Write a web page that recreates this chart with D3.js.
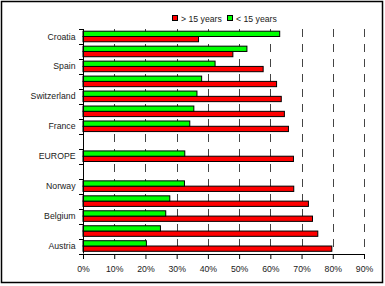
<!DOCTYPE html>
<html>
<head>
<meta charset="utf-8">
<script src="https://cdnjs.cloudflare.com/ajax/libs/d3/7.8.5/d3.min.js"></script>
<style>
  body { margin: 0; background: #fff; }
  text { font-family: "Liberation Sans", Arial, sans-serif; fill: #1a1a1a; }
</style>
</head>
<body>
<script>
// categories top to bottom; Excel skipped every second label, two rows are blank
const categories = ["Croatia", "", "Spain", "", "Switzerland", "", "France", "", "EUROPE", "", "Norway", "", "Belgium", "", "Austria"];
const over15  = [37, 48, 57.7, 62, 63.5, 64.5, 65.8, null, 67.4, null, 67.5, 72.2, 73.5, 75.2, 79.7];
const under15 = [63, 52.5, 42.3, 38, 36.5, 35.5, 34.2, null, 32.6, null, 32.5, 27.8, 26.5, 24.8, 20.3];
const seriesNames = ["> 15 years", "< 15 years"];
const seriesColors = ["#ff0000", "#00ff00"];
const xTicks = [0, 10, 20, 30, 40, 50, 60, 70, 80, 90];

const W = 385, H = 286;
const mLeft = 83, mRight = 364, mTop = 29, mBottom = 253.5;
const fs = 8.7;

const svg = d3.select("body").append("svg")
    .attr("width", W).attr("height", H);

// outer frame
svg.append("rect")
    .attr("x", 1.5).attr("y", 1.5).attr("width", 381).attr("height", 281)
    .attr("fill", "none").attr("stroke", "#000").attr("stroke-width", 1.5);

const x = d3.scaleLinear().domain([0, 90]).range([mLeft, mRight]);
const y = d3.scaleBand().domain(d3.range(categories.length)).range([mTop, mBottom]);
// inside a band: green on top, red under it
const inner = d3.scaleBand().domain([1, 0]).range([2.2, y.bandwidth() - 2.2]);

// dashed gridlines
svg.append("g")
  .selectAll("line")
  .data(xTicks.slice(1))
  .enter().append("line")
    .attr("x1", d => Math.round(x(d)) + 0.5).attr("x2", d => Math.round(x(d)) + 0.5)
    .attr("y1", mTop).attr("y2", mBottom)
    .attr("stroke", "#444").attr("stroke-width", 1)
    .attr("stroke-dasharray", "8,7");

const rows = categories.map((c, i) => ({ i, vals: [over15[i], under15[i]] }));

const bars = svg.append("g");
rows.forEach(r => {
  r.vals.forEach((v, s) => {
    if (v == null) return;
    bars.append("rect")
      .attr("x", x(0))
      .attr("y", y(r.i) + inner(s))
      .attr("width", x(v) - x(0))
      .attr("height", inner.bandwidth())
      .attr("fill", seriesColors[s])
      .attr("stroke", "#000")
      .attr("stroke-width", 1);
  });
});

// y axis line + ticks at band edges
svg.append("line")
    .attr("x1", mLeft + 0.5).attr("x2", mLeft + 0.5)
    .attr("y1", mTop).attr("y2", mBottom)
    .attr("stroke", "#000");
svg.append("g")
  .selectAll("line")
  .data(d3.range(categories.length + 1))
  .enter().append("line")
    .attr("x1", mLeft - 4).attr("x2", mLeft + 0.5)
    .attr("y1", d => Math.round(mTop + d * y.step()) + 0.5)
    .attr("y2", d => Math.round(mTop + d * y.step()) + 0.5)
    .attr("stroke", "#000");

svg.append("g")
  .selectAll("text")
  .data(rows.filter(r => categories[r.i] !== ""))
  .enter().append("text")
    .attr("x", 75.5)
    .attr("y", r => y(r.i) + y.bandwidth() / 2)
    .attr("dy", "0.35em")
    .attr("text-anchor", "end")
    .attr("font-size", fs)
    .text(r => categories[r.i]);

// x axis
const xAxis = d3.axisBottom(x)
    .tickValues(xTicks)
    .tickSize(5)
    .tickPadding(7)
    .tickFormat(d => d + "%");
const gx = svg.append("g")
    .attr("transform", "translate(0," + Math.round(mBottom) + ")")
    .call(xAxis);
gx.select(".domain").attr("stroke", "#000");
gx.selectAll(".tick line").attr("stroke", "#000");
gx.selectAll(".tick text")
    .style("font-size", fs + "px")
    .attr("fill", "#1a1a1a");

// legend
const legendX = [172, 227];
const lg = svg.append("g");
seriesNames.forEach((n, s) => {
  lg.append("rect")
    .attr("x", legendX[s] + 0.5).attr("y", 15.5)
    .attr("width", 5).attr("height", 5)
    .attr("fill", seriesColors[s]).attr("stroke", "#000");
  lg.append("text")
    .attr("x", legendX[s] + 9).attr("y", 21.5)
    .attr("font-size", fs)
    .text(n);
});
</script>
</body>
</html>
